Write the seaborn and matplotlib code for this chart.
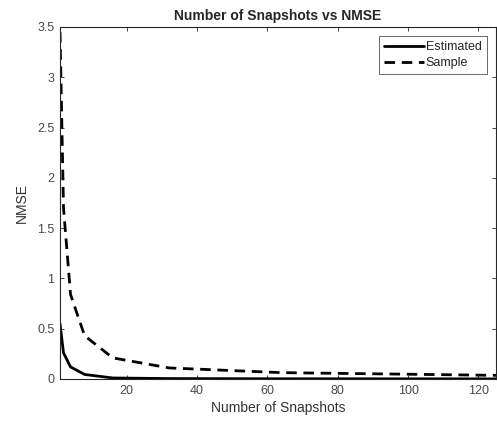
import matplotlib
matplotlib.use("Agg")
import matplotlib.pyplot as plt
import seaborn as sns
import pandas as pd

snapshots = [1, 2, 4, 8, 16, 32, 64, 128]
estimated = [0.55, 0.26, 0.12, 0.045, 0.01, 0.004, 0.002, 0.001]
sample = [3.45, 1.70, 0.84, 0.43, 0.21, 0.11, 0.063, 0.035]
yticks = [0, 0.5, 1, 1.5, 2, 2.5, 3, 3.5]
xticks = [20, 40, 60, 80, 100, 120]

sns.set_theme(style="white")
plt.rcParams['font.family'] = ['Liberation Sans', 'DejaVu Sans']

df = pd.DataFrame({"N": snapshots * 2,
                   "NMSE": estimated + sample,
                   "Method": ["Estimated"] * len(snapshots) + ["Sample"] * len(snapshots)})

fig = plt.figure(figsize=(4.97, 4.21), dpi=100)
ax = fig.add_axes([0.1207, 0.0998, 0.8773, 0.8362])

sns.lineplot(data=df, x="N", y="NMSE", style="Method", color="black",
             dashes={"Estimated": "", "Sample": (3.8, 2.4)}, linewidth=2.0, ax=ax,
             legend=True)

ax.set_xlim(1, 125)
ax.set_ylim(0, 3.5)
ax.set_xticks(xticks)
ax.set_yticks(yticks)
ax.set_yticklabels(["0", "0.5", "1", "1.5", "2", "2.5", "3", "3.5"])
ax.tick_params(direction="in", length=3, width=0.6, colors="#262626",
               labelcolor="#4a4a4a", labelsize=9, top=True, right=True,
               bottom=True, left=True, pad=4)
for s in ax.spines.values():
    s.set_color("#262626")
    s.set_linewidth(0.8)
ax.set_xlabel("Number of Snapshots", fontsize=10, color="#333333", labelpad=3)
ax.set_ylabel("NMSE", fontsize=10, color="#333333", labelpad=6)
ax.set_title("Number of Snapshots vs NMSE", fontsize=10, fontweight="bold", pad=5)

leg = ax.legend(loc="upper right", fontsize=9, frameon=True, fancybox=False,
                edgecolor="#262626", borderpad=0.4, handlelength=3.2,
                handletextpad=0.15, labelspacing=0.3, borderaxespad=0.75)
leg.get_frame().set_linewidth(0.6)

fig.savefig("out.png", dpi=100)
